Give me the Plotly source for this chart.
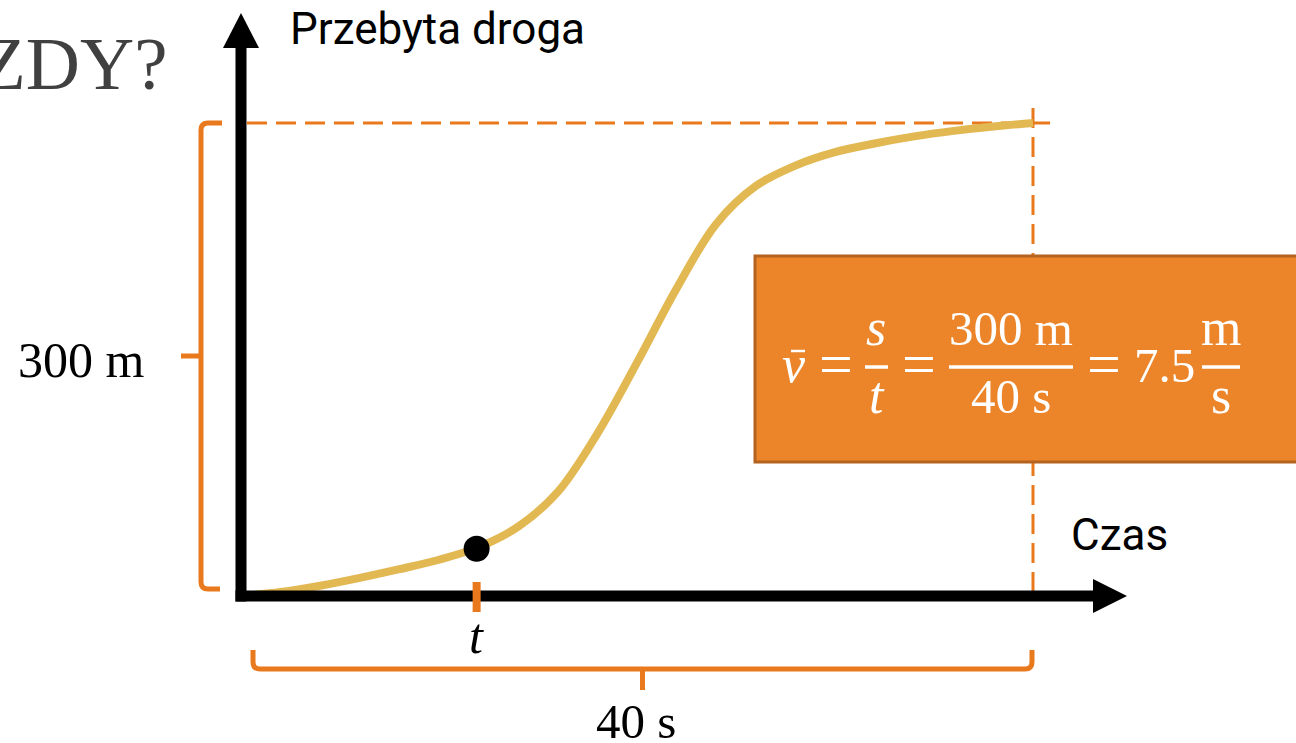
import plotly.graph_objects as go

# ---- data: distance travelled over time ------------------------------
time_s = [0, 2, 4, 6, 8, 10, 12, 14, 16, 18, 20,
          22, 24, 26, 28, 30, 32, 34, 36, 38, 40]
distance_m = [0, 2.5, 6.5, 11.5, 17, 23, 31, 44, 66, 103, 148,
              195, 236, 260, 273, 281.5, 287, 291.5, 295, 297.8, 300]

point_t = 11.9          # highlighted moment on the curve
point_s = 30

T_TOTAL = 40            # s
S_TOTAL = 300           # m
avg_speed = S_TOTAL / T_TOTAL

y_label = "Przebyta droga"
x_label = "Czas"
heading_tail = "ZDY?"

# ---- canvas / scale ---------------------------------------------------
W, H = 1296, 743
X0, Y0 = 241, 596                     # pixel position of the origin
KX = (1033 - X0) / T_TOTAL            # pixels per second
KY = (Y0 - 123) / S_TOTAL             # pixels per metre


def dx(p):
    """pixel length -> seconds"""
    return p / KX


def dy(p):
    """pixel length -> metres"""
    return p / KY


def px(x):
    return x / W


def py(y):
    return 1 - y / H


ORANGE = "#E9791D"
GOLD = "#E2B852"
SERIF = "Liberation Serif"
SANS = "Roboto"

fig = go.Figure()

fig.add_trace(go.Scatter(
    x=time_s, y=distance_m, mode="lines",
    line=dict(color=GOLD, width=8, shape="spline", smoothing=1.0),
    hoverinfo="skip"))
fig.add_trace(go.Scatter(
    x=[point_t], y=[point_s], mode="markers",
    marker=dict(size=26, color="black", line=dict(width=0)),
    hoverinfo="skip"))

shapes = []

# reference dashed lines at the final distance and the final time
dash = "20px,9px"
shapes.append(dict(type="line", xref="x", yref="y", layer="below",
                   x0=dx(6), x1=T_TOTAL + dx(19), y0=S_TOTAL, y1=S_TOTAL,
                   line=dict(color=ORANGE, width=3, dash=dash)))
shapes.append(dict(type="line", xref="x", yref="y", layer="below",
                   x0=T_TOTAL, x1=T_TOTAL, y0=S_TOTAL + dy(15), y1=0,
                   line=dict(color=ORANGE, width=3, dash=dash)))

# coordinate axes with arrowheads
AX_W = 11
y_tip, y_base = S_TOTAL + dy(110), S_TOTAL + dy(75)
x_tip, x_base = T_TOTAL + dx(94), T_TOTAL + dx(60)
shapes.append(dict(type="line", xref="x", yref="y", layer="above",
                   x0=0, x1=0, y0=-dy(AX_W / 2), y1=y_base + dy(2),
                   line=dict(color="black", width=AX_W)))
shapes.append(dict(type="line", xref="x", yref="y", layer="above",
                   x0=-dx(AX_W / 2), x1=x_base + dx(2), y0=0, y1=0,
                   line=dict(color="black", width=AX_W)))
shapes.append(dict(type="path", xref="x", yref="y", layer="above",
                   path=f"M {-dx(18)},{y_base} L {dx(18)},{y_base} L 0,{y_tip} Z",
                   fillcolor="black", line=dict(width=0)))
shapes.append(dict(type="path", xref="x", yref="y", layer="above",
                   path=f"M {x_base},{-dy(17)} L {x_base},{dy(17)} L {x_tip},0 Z",
                   fillcolor="black", line=dict(width=0)))

# bracket spanning the total distance
xb = -dx(40)
rx, ry = dx(7), dy(7)
b_top, b_bot = S_TOTAL, dy(7)
y_mid = (b_top + b_bot) / 2
shapes.append(dict(
    type="path", xref="x", yref="y", layer="above",
    path=(f"M {-dx(19)},{b_top} L {xb + rx},{b_top} Q {xb},{b_top} {xb},{b_top - ry} "
          f"L {xb},{b_bot + ry} Q {xb},{b_bot} {xb + rx},{b_bot} L {-dx(21)},{b_bot}"),
    line=dict(color=ORANGE, width=5)))
shapes.append(dict(type="line", xref="x", yref="y", layer="above",
                   x0=xb, x1=-dx(60), y0=y_mid, y1=y_mid,
                   line=dict(color=ORANGE, width=5)))

# bracket spanning the total time
yb = -dy(73)
l_end, r_end = dx(12), T_TOTAL - dx(1)
x_mid = (l_end + r_end) / 2
shapes.append(dict(
    type="path", xref="x", yref="y", layer="above",
    path=(f"M {l_end},{-dy(54)} L {l_end},{yb + ry} Q {l_end},{yb} {l_end + rx},{yb} "
          f"L {r_end - rx},{yb} Q {r_end},{yb} {r_end},{yb + ry} L {r_end},{-dy(54)}"),
    line=dict(color=ORANGE, width=5)))
shapes.append(dict(type="line", xref="x", yref="y", layer="above",
                   x0=x_mid, x1=x_mid, y0=yb, y1=-dy(94),
                   line=dict(color=ORANGE, width=5)))

# tick marking the highlighted moment
shapes.append(dict(type="line", xref="x", yref="y", layer="above",
                   x0=point_t, x1=point_t, y0=dy(14), y1=-dy(16),
                   line=dict(color=ORANGE, width=8)))

# formula panel
shapes.append(dict(type="rect", xref="paper", yref="paper", layer="above",
                   x0=px(755), x1=px(1310), y0=py(462), y1=py(256),
                   fillcolor="#EC8429", line=dict(color="#B3621F", width=3)))
for a, b in [(865, 888), (949, 1073), (1202, 1240)]:
    shapes.append(dict(type="line", xref="paper", yref="paper", layer="above",
                       x0=px(a), x1=px(b), y0=py(367), y1=py(367),
                       line=dict(color="white", width=3.5)))
shapes.append(dict(type="line", xref="paper", yref="paper", layer="above",
                   x0=px(791), x1=px(805), y0=py(351), y1=py(351),
                   line=dict(color="white", width=2.5)))

annotations = []


def label(text, x, baseline, size, family=SERIF, color="black", anchor="center"):
    annotations.append(dict(
        text=text, xref="paper", yref="paper", x=px(x), y=py(baseline - 0.34 * size),
        xanchor=anchor, yanchor="middle", showarrow=False, borderpad=0,
        font=dict(family=family, size=size, color=color)))


label(heading_tail, 168, 89, 75, color="#404040", anchor="right")
label(y_label, 289, 44, 44, family=SANS, anchor="left")
label(x_label, 1070, 550, 44, family=SANS, anchor="left")
label(f"{S_TOTAL} m", 81, 377, 50)
label("<i>t</i>", 476, 653, 50)
label(f"{T_TOTAL} s", 636, 738, 49)

# v̄ = s/t = 300 m / 40 s = 7.5 m/s
F = 49
label("<i>v</i>", 794, 382, 52, color="white")
label("=", 836, 384, 60, color="white")
label("<i>s</i>", 876, 345, 52, color="white")
label("<i>t</i>", 877, 413, 52, color="white")
label("=", 919, 384, 60, color="white")
label(f"{S_TOTAL} m", 1011, 345, F, color="white")
label(f"{T_TOTAL} s", 1011, 413, F, color="white")
label("=", 1104, 384, 60, color="white")
label(f"{avg_speed:g}", 1164, 382, F, color="white")
label("m", 1221, 345, 52, color="white")
label("s", 1221, 413, 52, color="white")

fig.update_layout(
    width=W, height=H, margin=dict(l=0, r=0, t=0, b=0),
    paper_bgcolor="white", plot_bgcolor="white", showlegend=False,
    xaxis=dict(visible=False, range=[-X0 / KX, (W - X0) / KX], fixedrange=True),
    yaxis=dict(visible=False, range=[-(H - Y0) / KY, Y0 / KY], fixedrange=True),
    shapes=shapes, annotations=annotations)

fig.write_html("out.html", config={"displayModeBar": False})
